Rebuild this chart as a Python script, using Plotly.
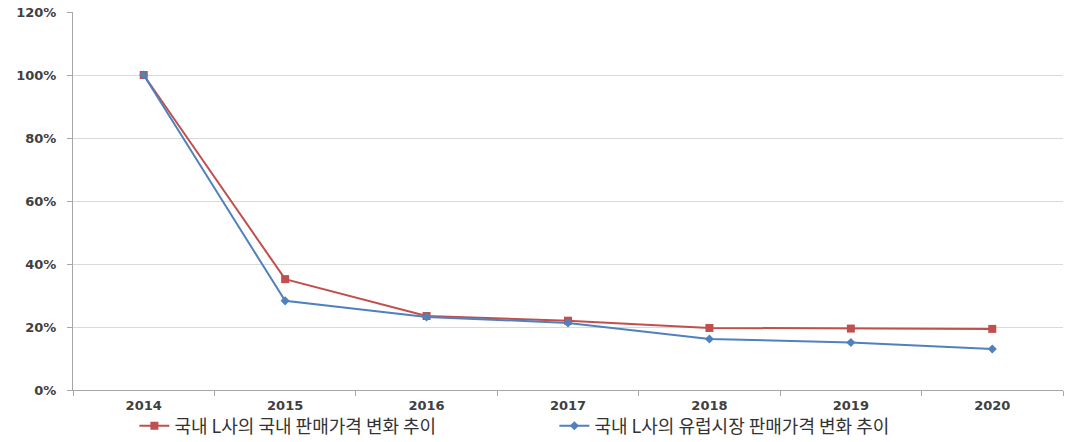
import plotly.graph_objects as go

years = ["2014", "2015", "2016", "2017", "2018", "2019", "2020"]
domestic = [100, 35.2, 23.5, 22.0, 19.7, 19.5, 19.4]
europe = [100, 28.3, 23.2, 21.3, 16.2, 15.1, 13.0]
y_ticks = [0, 20, 40, 60, 80, 100, 120]
y_labels = [f"{v}%" for v in y_ticks]

tick_font = dict(family="DejaVu Sans, Verdana, sans-serif", size=13, color="#404040", weight="bold")

fig = go.Figure()
fig.add_trace(go.Scatter(
    x=years, y=domestic, mode="lines+markers",
    name="국내 L사의 국내 판매가격 변화 추이",
    line=dict(color="#C0504D", width=2),
    marker=dict(symbol="square", size=8, color="#C0504D"),
))
fig.add_trace(go.Scatter(
    x=years, y=europe, mode="lines+markers",
    name="국내 L사의 유럽시장 판매가격 변화 추이",
    line=dict(color="#4F81BD", width=2),
    marker=dict(symbol="diamond", size=7, color="#4F81BD"),
))

fig.update_layout(
    width=1067, height=442,
    margin=dict(l=73, r=4, t=12, b=52, autoexpand=False),
    plot_bgcolor="white", paper_bgcolor="white",
    font=dict(family="Noto Sans CJK KR, sans-serif", size=12, color="#333"),
    showlegend=True,
    legend=dict(orientation="h", x=0.062, xanchor="left", y=0.036, yanchor="middle",
                yref="container",
                font=dict(family="Noto Sans CJK KR, sans-serif", size=18, color="#333"),
                itemwidth=30, entrywidth=375, entrywidthmode="pixels",
                bgcolor="rgba(0,0,0,0)"),
    xaxis=dict(
        type="category", showgrid=False, showline=True, linecolor="#A6A6A6", linewidth=1,
        ticks="outside", tickson="boundaries", ticklen=5, tickcolor="#A6A6A6",
        ticklabelstandoff=3,
        tickfont=tick_font, range=[-0.5, 6.5],
    ),
    yaxis=dict(
        range=[0, 120], tickvals=y_ticks, ticktext=y_labels,
        showgrid=True, gridcolor="#D9D9D9", gridwidth=1,
        showline=True, linecolor="#A6A6A6", linewidth=1,
        ticks="outside", ticklen=5, tickcolor="#A6A6A6",
        ticklabelstandoff=8,
        tickfont=tick_font, zeroline=False,
    ),
)

fig.write_html("out.html")
